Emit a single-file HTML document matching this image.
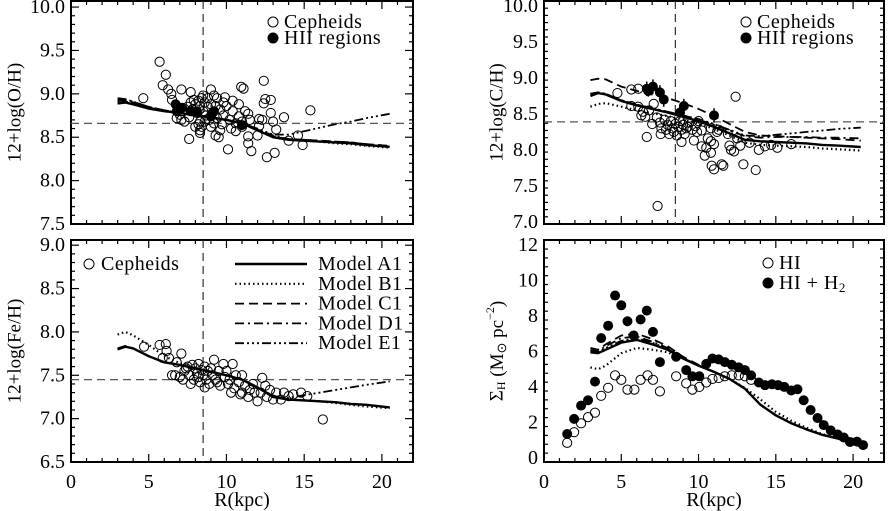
<!DOCTYPE html>
<html><head><meta charset="utf-8">
<style>
html,body{margin:0;padding:0;background:#fff;}
svg{display:block;font-family:"Liberation Serif",serif;}
</style></head>
<body>
<svg id="fig" width="888" height="511" viewBox="0 0 888 511" xmlns="http://www.w3.org/2000/svg">
<rect width="888" height="511" fill="#fff"/>
</svg>
<script>
// ---------- data ----------
const modelR = [3,3.5,4,5,6,7,8,9,10,11,12,13,14,15,16,17,18,19,20.5];
const modelNames = ['A1','B1','C1','D1','E1'];

const ohA1 = [8.89,8.90,8.88,8.83,8.80,8.78,8.75,8.73,8.70,8.66,8.58,8.50,8.47,8.46,8.45,8.44,8.43,8.41,8.39];
const ohB1 = [8.90,8.91,8.89,8.84,8.80,8.78,8.75,8.73,8.70,8.66,8.58,8.50,8.47,8.46,8.45,8.43,8.42,8.40,8.38];
const ohC1 = [8.92,8.92,8.90,8.84,8.81,8.78,8.76,8.73,8.70,8.66,8.59,8.51,8.48,8.47,8.46,8.45,8.44,8.42,8.40];
const ohD1 = [8.93,8.93,8.91,8.85,8.81,8.78,8.76,8.73,8.70,8.66,8.59,8.52,8.48,8.47,8.46,8.45,8.44,8.42,8.40];
const ohE1 = [8.95,8.94,8.91,8.85,8.81,8.78,8.76,8.73,8.70,8.66,8.60,8.53,8.53,8.57,8.61,8.65,8.68,8.72,8.77];

const feA1 = [7.80,7.83,7.81,7.72,7.65,7.62,7.58,7.54,7.50,7.45,7.36,7.25,7.22,7.21,7.20,7.19,7.17,7.16,7.13];
const feB1 = [7.97,8.00,7.96,7.85,7.72,7.64,7.58,7.54,7.50,7.45,7.36,7.25,7.22,7.21,7.20,7.18,7.16,7.14,7.12];
const feC1 = [7.81,7.84,7.81,7.72,7.65,7.62,7.58,7.54,7.50,7.45,7.36,7.26,7.22,7.21,7.20,7.19,7.17,7.16,7.13];
const feD1 = [7.81,7.83,7.81,7.72,7.65,7.62,7.58,7.54,7.50,7.45,7.36,7.26,7.22,7.21,7.20,7.19,7.17,7.16,7.13];
const feE1 = [7.80,7.83,7.81,7.72,7.65,7.62,7.58,7.54,7.50,7.45,7.36,7.26,7.24,7.27,7.30,7.33,7.36,7.39,7.43];

const chA1 = [8.75,8.79,8.77,8.68,8.62,8.57,8.52,8.46,8.40,8.32,8.23,8.14,8.12,8.11,8.10,8.09,8.07,8.06,8.04];
const chB1 = [8.60,8.64,8.65,8.60,8.55,8.51,8.47,8.42,8.37,8.29,8.20,8.10,8.07,8.06,8.05,8.04,8.02,8.01,7.99];
const chC1 = [8.97,8.99,8.98,8.88,8.82,8.77,8.72,8.65,8.57,8.47,8.36,8.25,8.20,8.19,8.18,8.17,8.16,8.15,8.13];
const chD1 = [8.78,8.80,8.78,8.69,8.63,8.58,8.53,8.48,8.42,8.35,8.27,8.19,8.17,8.18,8.18,8.18,8.17,8.17,8.16];
const chE1 = [8.78,8.80,8.78,8.69,8.63,8.58,8.53,8.48,8.43,8.36,8.28,8.20,8.19,8.21,8.23,8.25,8.27,8.29,8.31];

const sgA1 = [5.95,5.90,6.10,6.50,6.65,6.40,6.10,5.60,5.20,4.85,4.45,3.90,3.00,2.40,1.95,1.60,1.30,1.10,0.65];
const sgB1 = [5.10,5.00,5.20,5.90,6.20,6.10,5.95,5.60,5.20,4.85,4.45,3.95,3.30,2.60,2.10,1.70,1.35,1.10,0.65];
const sgC1 = [6.20,6.10,6.40,6.90,7.00,6.70,6.30,5.70,5.25,4.85,4.45,3.90,3.00,2.40,1.95,1.60,1.30,1.10,0.65];
const sgD1 = [6.10,6.00,6.30,6.75,6.85,6.55,6.20,5.65,5.20,4.85,4.45,3.90,3.00,2.40,1.95,1.60,1.30,1.10,0.65];
const sgE1 = [6.00,5.95,6.20,6.60,6.75,6.50,6.15,5.60,5.20,4.85,4.45,3.90,3.00,2.40,1.95,1.60,1.30,1.10,0.65];

const ohCephR = [4.65,5.7,6.1,5.9,6.25,6.45,7.1,7.7,6.5,7.6,7.0,7.1,8.3,8.3,9.0,9.2,9.5,9.3,9.6,10.1,9.9,10.4,10.95,11.1,11.4,11.4,11.4,11.6,12.1,12.4,12.4,12.5,12.85,12.85,13.0,13.2,13.7,12.6,13.1,14.0,14.6,14.9,15.4,12.1,12.0,12.3,7.5,7.7,7.8,7.9,8.0,8.1,8.2,8.3,8.4,8.5,8.6,8.7,8.8,8.9,9.0,9.1,9.3,9.4,9.6,9.8,10.0,10.2,10.4,10.6,10.8,11.0,11.2,7.6,8.0,8.2,8.4,8.6,9.0,9.2,9.7,10.3,10.6,11.0,7.3,6.8,7.2,8.5,8.8,9.4,10.8,11.5,8.3,9.8];
const ohCephV = [8.95,9.37,9.22,9.10,9.05,9.00,9.05,9.02,8.93,8.48,8.76,8.70,8.68,8.58,9.05,8.98,8.50,8.52,8.58,8.36,8.96,8.92,9.08,9.06,8.77,8.51,8.43,8.34,8.63,9.15,8.89,8.94,8.93,8.78,8.68,8.59,8.73,8.27,8.32,8.46,8.52,8.41,8.81,8.71,8.52,8.70,8.85,8.90,8.82,8.93,8.88,8.78,8.92,8.86,8.95,8.80,8.90,8.75,8.85,8.70,8.88,8.78,8.86,8.72,8.82,8.75,8.86,8.70,8.80,8.66,8.74,8.62,8.80,8.73,8.62,8.65,8.62,8.68,8.62,8.66,8.65,8.60,8.57,8.68,8.68,8.72,8.80,8.98,8.95,8.95,8.88,8.70,8.55,8.90];
const ohHiiR = [6.73,6.8,7.15,7.7,8.1,9.0,9.2,11.0];
const ohHiiV = [8.88,8.80,8.84,8.80,8.80,8.74,8.80,8.64];

const feCephR = [4.7,5.7,6.1,6.15,5.9,6.3,7.1,6.5,6.7,7.0,7.3,7.5,7.6,7.8,7.9,8.0,8.1,8.2,8.3,8.4,8.5,8.6,8.7,8.8,8.9,9.0,9.1,9.2,9.3,9.5,9.6,9.8,9.9,10.0,10.1,10.2,10.4,10.5,10.6,10.8,11.0,11.0,11.2,11.4,11.5,11.7,12.0,12.2,12.3,12.5,12.6,12.8,13.0,13.2,13.5,13.7,14.0,14.3,14.8,15.2,16.2,7.2,7.7,8.2,8.6,9.4,10.3,10.9,11.8,6.8,7.4];
const feCephV = [7.83,7.85,7.86,7.78,7.70,7.70,7.75,7.50,7.50,7.48,7.55,7.60,7.50,7.62,7.45,7.58,7.52,7.63,7.42,7.56,7.50,7.60,7.45,7.55,7.40,7.58,7.50,7.68,7.45,7.55,7.38,7.63,7.48,7.55,7.40,7.45,7.63,7.35,7.50,7.42,7.50,7.30,7.38,7.25,7.33,7.40,7.20,7.30,7.47,7.38,7.25,7.33,7.22,7.30,7.22,7.30,7.26,7.28,7.30,7.26,6.99,7.45,7.40,7.48,7.36,7.42,7.30,7.28,7.30,7.65,7.58];

const chCephR = [4.75,5.65,6.1,5.65,6.1,6.4,6.55,7.0,6.65,7.55,7.1,7.35,12.4,9.7,10.5,10.4,10.8,10.85,11.0,11.5,12.0,12.7,12.9,13.3,13.7,13.9,14.3,14.7,15.1,16.0,10.6,10.8,11.3,11.9,12.5,9.9,9.3,6.3,6.8,7.3,7.5,7.6,7.8,7.9,8.0,8.1,8.2,8.3,8.4,8.5,8.6,8.7,8.8,8.9,9.0,9.1,9.2,9.4,9.6,9.8,10.0,10.2,8.9,10.8,11.0,11.2,12.1,12.3,10.2,11.6];
const chCephV = [8.79,8.84,8.85,8.61,8.60,8.53,8.46,8.36,8.18,8.22,8.64,7.22,8.74,8.13,8.03,7.92,7.96,7.78,7.73,7.80,8.06,8.06,7.80,8.10,7.72,8.00,8.05,8.07,8.03,8.08,8.16,8.30,8.28,8.22,8.16,8.25,8.32,8.48,8.55,8.45,8.38,8.30,8.42,8.28,8.35,8.22,8.40,8.30,8.25,8.36,8.20,8.32,8.40,8.28,8.35,8.22,8.30,8.38,8.28,8.33,8.40,8.27,8.11,8.12,8.08,8.25,8.00,7.98,8.05,7.78];
const chHiiR = [6.65,6.75,7.05,7.5,7.75,8.8,9.05,11.0];
const chHiiV = [8.85,8.82,8.88,8.80,8.70,8.52,8.61,8.48];
const chHiiErr = [0.10,0.08,0.10,0.10,0.10,0.08,0.10,0.10];

const hiR = [1.5,1.95,2.4,2.85,3.3,3.7,4.15,4.6,5.0,5.4,5.85,6.25,6.7,7.05,7.5,8.55,9.2,9.6,10.05,10.5,10.9,11.3,11.7,12.15,12.6,13.0,13.4];
const hiV = [0.85,1.45,1.95,2.3,2.55,3.5,3.95,4.65,4.4,3.85,3.85,4.4,4.65,4.4,3.75,4.6,4.2,3.85,4.0,4.25,4.45,4.5,4.6,4.65,4.65,4.6,4.4];
const hih2R = [1.5,1.95,2.4,2.85,3.3,3.7,4.15,4.6,5.0,5.4,5.8,6.25,6.65,7.05,7.5,8.55,9.2,9.6,10.05,10.5,10.9,11.3,11.7,12.15,12.6,13.0,13.4,13.9,14.3,14.75,15.15,15.55,16.0,16.4,16.8,17.25,17.7,18.1,18.55,19.0,19.4,19.8,20.25,20.65];
const hih2V = [1.35,2.2,2.95,3.25,4.3,6.75,7.45,9.15,8.6,7.7,6.9,7.8,8.3,7.1,5.4,5.7,4.95,4.6,4.6,5.3,5.6,5.55,5.4,5.25,5.1,4.95,4.65,4.25,4.1,4.15,4.1,4.0,3.8,3.87,3.25,2.7,2.25,1.85,1.55,1.32,1.15,0.9,0.92,0.72];

const xTicks = [0,5,10,15,20];
const ohTicks = ['7.5','8.0','8.5','9.0','9.5','10.0'];
const feTicks = ['6.5','7.0','7.5','8.0','8.5','9.0'];
const chTicks = ['7.0','7.5','8.0','8.5','9.0','9.5','10.0'];
const sgTicks = ['0','2','4','6','8','10','12'];

// ---------- drawing ----------
const NS = 'http://www.w3.org/2000/svg';
const svg = document.getElementById('fig');
function mk(tag, attrs, parent){
  const e = document.createElementNS(NS, tag);
  for (const k in attrs) e.setAttribute(k, attrs[k]);
  (parent||svg).appendChild(e);
  return e;
}
const styles = {
  A1: {dash:'', w:2.4},
  B1: {dash:'1.5,3', w:2.2},
  C1: {dash:'9,5', w:1.8},
  D1: {dash:'9,4,2,4', w:1.8},
  E1: {dash:'9,3,2,3,2,3,2,3', w:1.8}
};

function panel(cfg){
  const g = mk('g', {});
  
  
  const sx = r => cfg.x0 + (r - 0) / 22 * (cfg.x1 - cfg.x0);
  const sy = v => cfg.yb - (v - cfg.ymin) / (cfg.ymax - cfg.ymin) * (cfg.yb - cfg.yt);
  // frame
  const fr = mk('rect', {x:cfg.x0, y:cfg.yt, width:cfg.x1-cfg.x0, height:cfg.yb-cfg.yt, fill:'none', stroke:'#000', 'stroke-width':2}, g);
  
  
  // x ticks
  for (let r = 1; r < 22; r++){
    const major = r % 5 === 0, L = major ? 8 : 4;
    mk('line', {x1:sx(r), x2:sx(r), y1:cfg.yb, y2:cfg.yb-L, stroke:'#000', 'stroke-width':1.2}, g);
    mk('line', {x1:sx(r), x2:sx(r), y1:cfg.yt, y2:cfg.yt+L, stroke:'#000', 'stroke-width':1.2}, g);
  }
  if (cfg.xlabels){
    xTicks.forEach(t => {
      const tx = mk('text', {x:sx(t), y:482, 'font-size':20, 'text-anchor':'middle', 'dominant-baseline':'central'}, g);
      
      
      tx.textContent = t;
    });
    const xt = mk('text', {x:(cfg.x0+cfg.x1)/2, y:500, 'font-size':20, 'text-anchor':'middle', 'dominant-baseline':'central'}, g);
    
    
    xt.textContent = 'R(kpc)';
  }
  // y ticks
  for (let v = cfg.ymin + cfg.minor; v < cfg.ymax - 1e-6; v += cfg.minor){
    const vv = Math.round(v*1000)/1000;
    const ratio = vv / cfg.major;
    const major = Math.abs(ratio - Math.round(ratio)) < 1e-6, L = major ? 8 : 4;
    if (vv <= cfg.ymin + 1e-6) continue;
    mk('line', {x1:cfg.x0, x2:cfg.x0+L, y1:sy(vv), y2:sy(vv), stroke:'#000', 'stroke-width':1.2}, g);
    mk('line', {x1:cfg.x1, x2:cfg.x1-L, y1:sy(vv), y2:sy(vv), stroke:'#000', 'stroke-width':1.2}, g);
  }
  cfg.ticks.forEach(t => {
    const tx = mk('text', {x:cfg.x0-6, y:sy(parseFloat(t)), 'font-size':20, 'text-anchor':'end', 'dominant-baseline':'central'}, g);
    
    
    tx.textContent = t;
  });
  // y title
  const yc = (cfg.yt + cfg.yb) / 2;
  const yt = mk('text', {x:cfg.ytx, y:yc, 'font-size':19, 'text-anchor':'middle', 'dominant-baseline':'central', transform:`rotate(-90 ${cfg.ytx} ${yc})`}, g);
  
  
  yt.innerHTML = cfg.ytitle;
  // reference lines
  if (cfg.href !== undefined){
    const l = mk('line', {x1:cfg.x0, x2:cfg.x1, y1:sy(cfg.href), y2:sy(cfg.href), stroke:'#555', 'stroke-width':1.2, 'stroke-dasharray':'8,5'}, g);
    
    
  }
  if (cfg.vref){
    const l = mk('line', {x1:sx(8.5), x2:sx(8.5), y1:cfg.yt, y2:cfg.yb, stroke:'#333', 'stroke-width':1.2, 'stroke-dasharray':'8,5'}, g);
    
    
  }
  // open points
  cfg.open.forEach(s => {
    s.r.forEach((r, i) => {
      const c = mk('circle', {cx:sx(r), cy:sy(s.v[i]), r:4.6, fill:'none', stroke:'#000', 'stroke-width':1}, g);
      
      
    });
  });
  // model curves
  modelNames.forEach(m => {
    const vals = cfg.models[m];
    const d = modelR.map((r, i) => (i ? 'L' : 'M') + sx(r).toFixed(1) + ',' + sy(vals[i]).toFixed(1)).join(' ');
    const p = mk('path', {d:d, fill:'none', stroke:'#000', 'stroke-width':styles[m].w, 'stroke-dasharray':styles[m].dash}, g);
    
    
  });
  // filled points
  cfg.filled.forEach(s => {
    s.r.forEach((r, i) => {
      if (s.err){
        const eb = mk('line', {x1:sx(r), x2:sx(r), y1:sy(s.v[i]-s.err[i]), y2:sy(s.v[i]+s.err[i]), stroke:'#000', 'stroke-width':1.5}, g);
        
        
      }
      const c = mk('circle', {cx:sx(r), cy:sy(s.v[i]), r:5, fill:'#000'}, g);
      
      
    });
  });
  return g;
}

panel({name:'oxygen-panel', x0:71, x1:413, yt:1, yb:224, ymin:7.5, ymax:10.07, major:0.5, minor:0.1, ticks:ohTicks,
  ytx:15, ytitle:'12+log(O/H)', href:8.66, vref:true, xlabels:false,
  models:{A1:ohA1,B1:ohB1,C1:ohC1,D1:ohD1,E1:ohE1},
  open:[{name:'cepheid-point', r:ohCephR, v:ohCephV}],
  filled:[{name:'hii-region-point', r:ohHiiR, v:ohHiiV}]});

panel({name:'iron-panel', x0:71, x1:413, yt:240, yb:462, ymin:6.5, ymax:9.06, major:0.5, minor:0.1, ticks:feTicks,
  ytx:15, ytitle:'12+log(Fe/H)', href:7.45, vref:true, xlabels:true,
  models:{A1:feA1,B1:feB1,C1:feC1,D1:feD1,E1:feE1},
  open:[{name:'cepheid-point', r:feCephR, v:feCephV}],
  filled:[]});

panel({name:'carbon-panel', x0:544, x1:884, yt:1, yb:224, ymin:6.97, ymax:10.07, major:0.5, minor:0.1, ticks:chTicks,
  ytx:497, ytitle:'12+log(C/H)', href:8.39, vref:true, xlabels:false,
  models:{A1:chA1,B1:chB1,C1:chC1,D1:chD1,E1:chE1},
  open:[{name:'cepheid-point', r:chCephR, v:chCephV}],
  filled:[{name:'hii-region-point', r:chHiiR, v:chHiiV, err:chHiiErr}]});

panel({name:'gas-density-panel', x0:544, x1:884, yt:240, yb:462, ymin:-0.23, ymax:12.28, major:2, minor:0.5, ticks:sgTicks,
  ytx:497, ytitle:'Σ<tspan font-size="12" dy="4">H</tspan><tspan dy="-4"> (M</tspan><tspan font-size="13" dy="4">⊙</tspan><tspan dy="-4"> pc</tspan><tspan font-size="12" dy="-7">−2</tspan><tspan dy="7">)</tspan>',
  vref:false, xlabels:true,
  models:{A1:sgA1,B1:sgB1,C1:sgC1,D1:sgD1,E1:sgE1},
  open:[{name:'hi-point', r:hiR, v:hiV}],
  filled:[{name:'hi-h2-point', r:hih2R, v:hih2V}]});

// ---------- legends ----------
function legendMarker(cx, cy, filled, name){
  const c = mk('circle', {cx:cx, cy:cy, r:5, fill: filled ? '#000' : 'none', stroke:'#000', 'stroke-width':1});
  
  
}
function legendText(x, y, txt, name){
  const t = mk('text', {x:x, y:y, 'font-size':20, 'dominant-baseline':'central', 'letter-spacing':'0.5'});
  
  
  t.innerHTML = txt;
}
legendMarker(273, 22, false, 'legend-cepheids-marker'); legendText(284, 22, 'Cepheids', 'legend-cepheids');
legendMarker(273, 38, true, 'legend-hii-marker'); legendText(284, 38, 'HII regions', 'legend-hii-regions');
legendMarker(746, 22, false, 'legend-cepheids-marker'); legendText(757, 22, 'Cepheids', 'legend-cepheids');
legendMarker(746, 38, true, 'legend-hii-marker'); legendText(757, 38, 'HII regions', 'legend-hii-regions');
legendMarker(89, 264, false, 'legend-cepheids-marker'); legendText(101, 264, 'Cepheids', 'legend-cepheids');
legendMarker(768, 263, false, 'legend-hi-marker'); legendText(779, 263, 'HI', 'legend-hi');
legendMarker(768, 283, true, 'legend-hi-h2-marker'); legendText(779, 283, 'HI + H<tspan font-size="13" dy="4">2</tspan>', 'legend-hi-h2');

modelNames.forEach((m, i) => {
  const y = 264 + i * 19.8;
  const l = mk('line', {x1:235, x2:307, y1:y, y2:y, stroke:'#000', 'stroke-width':styles[m].w, 'stroke-dasharray':styles[m].dash});
  
  
  legendText(318, y, 'Model ' + m, 'legend-model-' + m.toLowerCase());
});
</script>
</body></html>
